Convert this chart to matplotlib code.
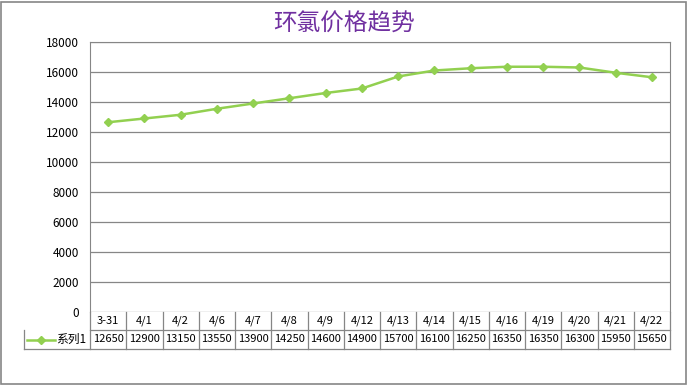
import matplotlib.pyplot as plt
import matplotlib.transforms as mtransforms
from matplotlib.lines import Line2D
from matplotlib.patches import Rectangle

plt.rcParams['font.family'] = ['Noto Sans CJK SC', 'DejaVu Sans']

# dados
datas = ['3-31', '4/1', '4/2', '4/6', '4/7', '4/8', '4/9', '4/12', '4/13',
         '4/14', '4/15', '4/16', '4/19', '4/20', '4/21', '4/22']
precos = [12650, 12900, 13150, 13550, 13900, 14250, 14600, 14900, 15700,
          16100, 16250, 16350, 16350, 16300, 15950, 15650]
serie = '系列1'
titulo = '环氯价格趋势'

verde = '#92D050'
cinza = '#868686'

fig = plt.figure(figsize=(6.88, 3.85), dpi=100)
fig.patches.append(Rectangle((0.002, 0.003), 0.995, 0.993, transform=fig.transFigure,
                             fill=False, edgecolor=cinza, linewidth=1.2))

ax = fig.add_axes([90/688, 1-312/385, 580/688, 270/385])
x = list(range(len(datas)))
ax.plot(x, precos, color=verde, linewidth=1.8, marker='D', markersize=4,
        markerfacecolor=verde, markeredgecolor=verde)
ax.set_xlim(-0.5, len(datas)-0.5)
ax.set_ylim(0, 18000)
ax.set_yticks(range(0, 18001, 2000))
ax.tick_params(axis='y', length=0, labelsize=8.5, pad=8)
ax.set_xticks([])
ax.grid(axis='y', color=cinza, linewidth=0.9)
for s in ['left', 'right', 'top']:
    ax.spines[s].set_color(cinza)
ax.spines['bottom'].set_visible(False)
ax.set_axisbelow(True)

fig.text(0.5, 1-24/385, titulo, ha='center', va='center', fontsize=17,
         fontweight='medium', color='#7030A0')

# tabela de dados
tr = mtransforms.blended_transform_factory(ax.transData, fig.transFigure)
y0 = 1-312/385
y1 = 1-330/385
y2 = 1-349/385
x_esq = -0.5 - (90-24)/36.25
def linha(xs, ys):
    ax.add_line(Line2D(xs, ys, transform=tr, color=cinza, linewidth=0.9, clip_on=False))

linha([-0.5, len(datas)-0.5], [y1, y1])
linha([x_esq, len(datas)-0.5], [y2, y2])
linha([x_esq, x_esq], [y1, y2])
for i in range(len(datas)+1):
    linha([i-0.5, i-0.5], [y0, y2])
for i, (d, p) in enumerate(zip(datas, precos)):
    ax.text(i, (y0+y1)/2, d, transform=tr, ha='center', va='center', fontsize=8)
    ax.text(i, (y1+y2)/2, str(p), transform=tr, ha='center', va='center', fontsize=8)

# legenda na tabela
ym = (y1+y2)/2
ax.add_line(Line2D([x_esq+0.08, x_esq+0.85], [ym, ym], transform=tr, color=verde,
                   linewidth=1.8, clip_on=False))
ax.add_line(Line2D([x_esq+0.465], [ym], transform=tr, color=verde, marker='D',
                   markersize=4, clip_on=False))
ax.text(x_esq+0.9, ym, serie, transform=tr, ha='left', va='center', fontsize=8.5)

fig.savefig('out.png', dpi=100)
